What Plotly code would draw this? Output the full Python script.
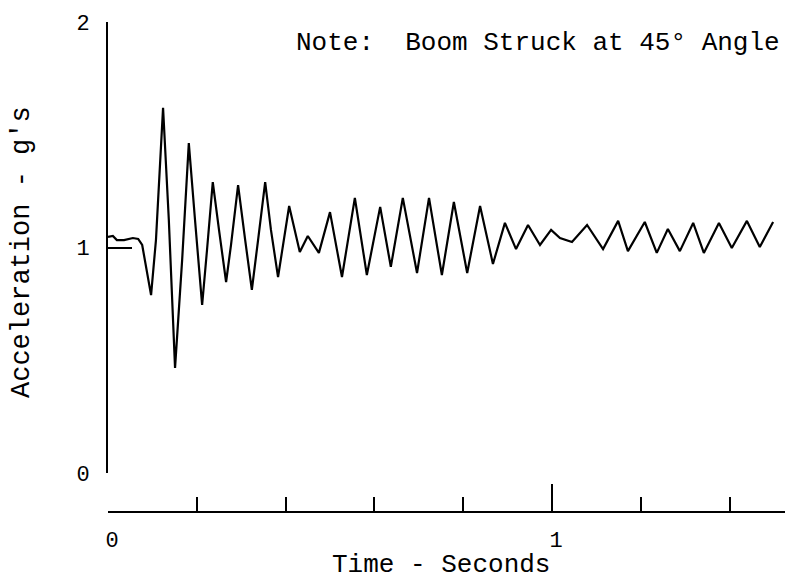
import plotly.graph_objects as go

# Data
time_s = [0.000, 0.011, 0.020, 0.036, 0.056, 0.068, 0.077, 0.086, 0.097, 0.108,
          0.124, 0.137, 0.151, 0.167, 0.182, 0.196, 0.212, 0.223, 0.236, 0.250,
          0.266, 0.277, 0.293, 0.309, 0.324, 0.338, 0.354, 0.367, 0.383, 0.408,
          0.432, 0.450, 0.475, 0.500, 0.527, 0.556, 0.583, 0.613, 0.637, 0.664,
          0.696, 0.723, 0.752, 0.779, 0.809, 0.838, 0.867, 0.894, 0.919, 0.946,
          0.973, 0.998, 1.018, 1.045, 1.079, 1.115, 1.149, 1.171, 1.209, 1.236,
          1.261, 1.288, 1.318, 1.342, 1.376, 1.405, 1.439, 1.468, 1.498]
accel_g = [1.047, 1.051, 1.033, 1.033, 1.042, 1.038, 1.011, 0.909, 0.789, 1.033,
           1.619, 1.122, 0.466, 0.945, 1.463, 1.122, 0.745, 0.989, 1.290, 1.078,
           0.847, 1.011, 1.277, 1.033, 0.812, 1.033, 1.290, 1.078, 0.869, 1.184,
           0.980, 1.051, 0.976, 1.157, 0.869, 1.220, 0.878, 1.180, 0.914, 1.220,
           0.887, 1.220, 0.878, 1.202, 0.887, 1.184, 0.927, 1.109, 0.993, 1.100,
           1.011, 1.078, 1.042, 1.024, 1.100, 0.993, 1.118, 0.984, 1.113, 0.976,
           1.082, 0.984, 1.109, 0.976, 1.109, 0.998, 1.118, 1.002, 1.113]

x_major_ticks = [0, 1]
x_major_labels = ["0", "1"]
y_ticks = [0, 1, 2]
y_labels = ["0", "1", "2"]

FONT = "Liberation Mono"

fig = go.Figure()
fig.add_trace(go.Scatter(x=time_s, y=accel_g, mode="lines",
                         line=dict(color="black", width=2.2), showlegend=False))

fig.update_layout(
    width=787, height=579,
    margin=dict(l=108, r=2, t=22, b=67),
    paper_bgcolor="white", plot_bgcolor="white",
    font=dict(family=FONT, color="black", size=22),
    xaxis=dict(range=[0, 1.5248], domain=[0, 1], anchor="free", position=0,
               showline=True, linecolor="black", linewidth=2,
               showgrid=False, zeroline=False,
               tickmode="array", tickvals=x_major_ticks, ticktext=x_major_labels,
               ticks="inside", ticklen=27, tickwidth=2, tickcolor="black",
               ticklabelstandoff=8, ticklabelshift=4,
               tickfont=dict(family=FONT, size=22),
               minor=dict(dtick=0.2, tick0=0, ticks="inside", ticklen=14,
                          tickwidth=2, tickcolor="black", showgrid=False)),
    yaxis=dict(range=[0, 2], domain=[0.0796, 1], anchor="x",
               showline=True, linecolor="black", linewidth=2,
               showgrid=False, zeroline=False,
               tickmode="array", tickvals=y_ticks, ticktext=y_labels,
               ticks="inside", ticklen=24, tickwidth=2, tickcolor="black",
               ticklabelstandoff=12,
               tickfont=dict(family=FONT, size=22)),
    annotations=[
        dict(text="Note:  Boom Struck at 45° Angle", xref="paper", yref="paper",
             x=(294 - 108) / 677, y=(512 - 43) / 490, xanchor="left", yanchor="middle",
             showarrow=False, font=dict(family=FONT, size=26)),
        dict(text="Time - Seconds", xref="paper", yref="paper",
             x=(441 - 108) / 677, y=(512 - 565) / 490, xanchor="center", yanchor="middle",
             showarrow=False, font=dict(family=FONT, size=26)),
        dict(text="Acceleration - g's", xref="paper", yref="paper",
             x=(22 - 108) / 677, y=(512 - 252) / 490, xanchor="center", yanchor="middle",
             textangle=-90, showarrow=False, font=dict(family=FONT, size=27)),
    ],
)

fig.write_html("out.html")
